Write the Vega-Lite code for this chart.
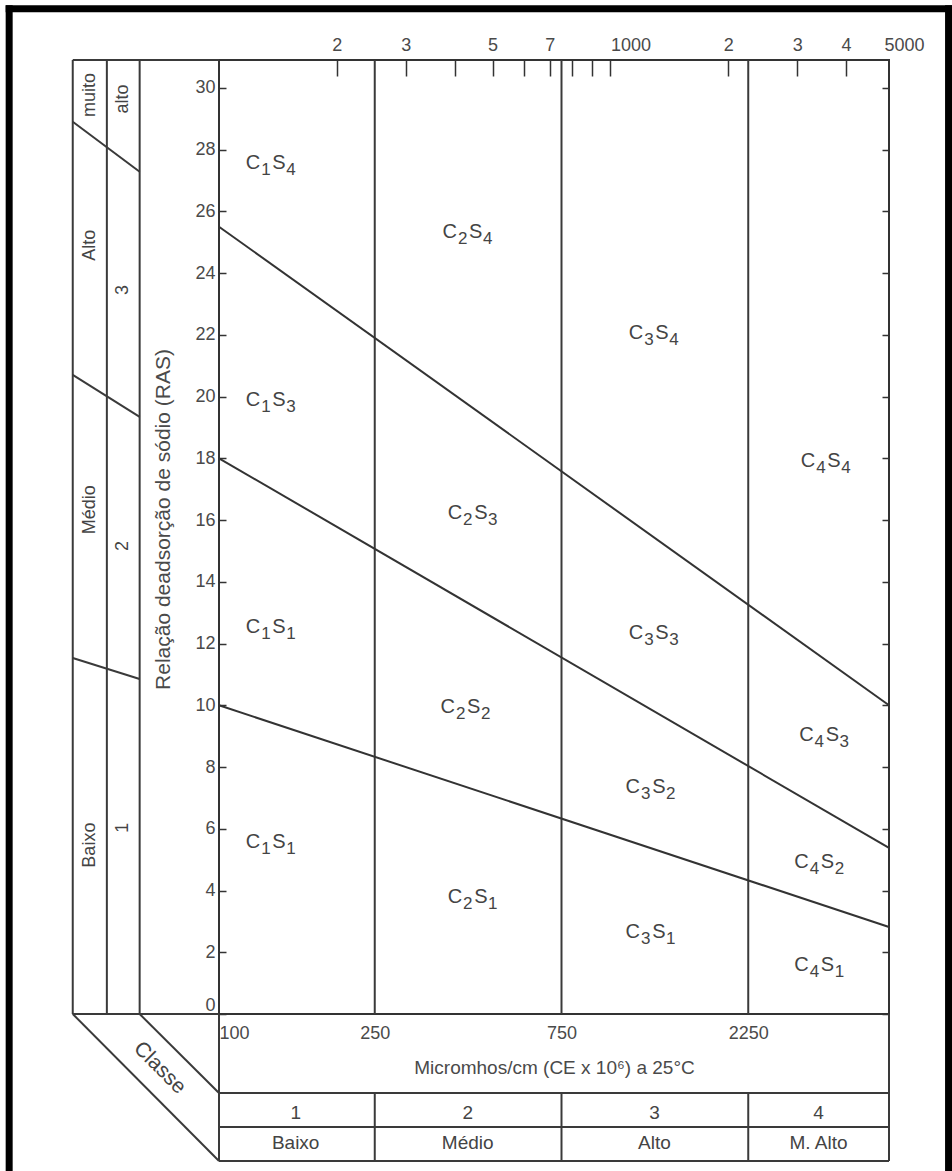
{
  "$schema": "https://vega.github.io/schema/vega-lite/v6.json",
  "width": 670,
  "height": 954,
  "autosize": {"type": "none"},
  "padding": {"left": 219, "top": 60, "right": 63, "bottom": 157},
  "background": "white",
  "config": {
    "view": {"stroke": "#333333", "strokeWidth": 2},
    "font": "Liberation Sans",
    "axis": {
      "labelFont": "Liberation Sans",
      "labelColor": "#4a4a4a",
      "labelFontSize": 18,
      "titleFont": "Liberation Sans",
      "titleFontWeight": "normal",
      "titleColor": "#4a4a4a",
      "tickColor": "#333333",
      "tickWidth": 1.5,
      "domain": false,
      "grid": false,
      "labelOverlap": false,
      "labelBound": false
    }
  },
  "datasets": {
    "frame": [
      {"x": 29.1, "y": 32.56, "x2": 7311, "y2": 32.56},
      {"x": 29.1, "y": 32.56, "x2": 29.1, "y2": -6.5},
      {"x": 7311, "y": 32.56, "x2": 7311, "y2": -6.5}
    ],
    "grid": [
      {"x": 250, "y": 0, "x2": 250, "y2": 30.9},
      {"x": 750, "y": 0, "x2": 750, "y2": 30.9},
      {"x": 2250, "y": 0, "x2": 2250, "y2": 30.9},
      {"x": 250, "y": -2.559, "x2": 250, "y2": -4.762},
      {"x": 750, "y": -2.559, "x2": 750, "y2": -4.762},
      {"x": 2250, "y": -2.559, "x2": 2250, "y2": -4.762},
      {"x": 100, "y": 0, "x2": 100, "y2": -4.762},
      {"x": 5150, "y": 0, "x2": 5150, "y2": -4.762},
      {"x": 100, "y": -2.559, "x2": 5150, "y2": -2.559},
      {"x": 100, "y": -3.661, "x2": 5150, "y2": -3.661},
      {"x": 100, "y": -4.762, "x2": 5150, "y2": -4.762},
      {"x": 42.3, "y": 0, "x2": 42.3, "y2": 30.9},
      {"x": 51.7, "y": 0, "x2": 51.7, "y2": 30.9},
      {"x": 62.7, "y": 0, "x2": 62.7, "y2": 30.9},
      {"x": 42.3, "y": 30.9, "x2": 100, "y2": 30.9},
      {"x": 42.3, "y": 0, "x2": 100, "y2": 0},
      {"x": 42.3, "y": 28.9, "x2": 62.7, "y2": 27.28},
      {"x": 42.3, "y": 20.7, "x2": 62.7, "y2": 19.34},
      {"x": 42.3, "y": 11.53, "x2": 62.7, "y2": 10.85},
      {"x": 62.7, "y": 0, "x2": 100, "y2": -2.559},
      {"x": 42.3, "y": 0, "x2": 100, "y2": -4.762}
    ],
    "hazard": [
      {"x": 100, "y": 10, "x2": 5150, "y2": 2.82},
      {"x": 100, "y": 18, "x2": 5150, "y2": 5.38},
      {"x": 100, "y": 25.5, "x2": 5150, "y2": 10.0}
    ],
    "regions": [
      {"ec": 135, "sar": 27.57, "c": "1", "s": "4"},
      {"ec": 429.5, "sar": 25.33, "c": "2", "s": "4"},
      {"ec": 1285, "sar": 22.07, "c": "3", "s": "4"},
      {"ec": 3533, "sar": 17.92, "c": "4", "s": "4"},
      {"ec": 135, "sar": 19.89, "c": "1", "s": "3"},
      {"ec": 442.6, "sar": 16.23, "c": "2", "s": "3"},
      {"ec": 1285, "sar": 12.34, "c": "3", "s": "3"},
      {"ec": 3500, "sar": 9.05, "c": "4", "s": "3"},
      {"ec": 135, "sar": 12.54, "c": "1", "s": "1"},
      {"ec": 424.5, "sar": 9.95, "c": "2", "s": "2"},
      {"ec": 1261, "sar": 7.35, "c": "3", "s": "2"},
      {"ec": 3400, "sar": 4.92, "c": "4", "s": "2"},
      {"ec": 135, "sar": 5.57, "c": "1", "s": "1"},
      {"ec": 442.6, "sar": 3.79, "c": "2", "s": "1"},
      {"ec": 1261, "sar": 2.66, "c": "3", "s": "1"},
      {"ec": 3400, "sar": 1.6, "c": "4", "s": "1"}
    ],
    "sideLabels": [
      {"ec": 46.7, "sar": 29.77, "label": "muito"},
      {"ec": 56.9, "sar": 29.64, "label": "alto"},
      {"ec": 46.7, "sar": 24.9, "label": "Alto"},
      {"ec": 56.9, "sar": 23.45, "label": "3"},
      {"ec": 46.7, "sar": 16.33, "label": "Médio"},
      {"ec": 56.9, "sar": 15.16, "label": "2"},
      {"ec": 46.7, "sar": 5.47, "label": "Baixo"},
      {"ec": 56.9, "sar": 6.03, "label": "1"}
    ],
    "classes": [
      {"ec": 157, "sar": -3.207, "label": "1"},
      {"ec": 432, "sar": -3.207, "label": "2"},
      {"ec": 1296, "sar": -3.207, "label": "3"},
      {"ec": 3402, "sar": -3.207, "label": "4"},
      {"ec": 157, "sar": -4.179, "label": "Baixo"},
      {"ec": 432, "sar": -4.179, "label": "Médio"},
      {"ec": 1296, "sar": -4.179, "label": "Alto"},
      {"ec": 3402, "sar": -4.179, "label": "M. Alto"}
    ],
    "corner": [
      {"ec": 70.5, "sar": -1.749, "label": "Classe"}
    ]
  },
  "layer": [
    {
      "data": {"name": "frame"},
      "mark": {"type": "rule", "stroke": "black", "strokeWidth": 7, "strokeCap": "square"},
      "encoding": {
        "x": {"field": "x", "type": "quantitative", "scale": {"type": "log", "domain": [100, 5150], "nice": false}, "axis": null},
        "y": {"field": "y", "type": "quantitative", "scale": {"domain": [0, 30.9], "nice": false, "zero": false}, "axis": null},
        "x2": {"field": "x2"},
        "y2": {"field": "y2"}
      }
    },
    {
      "data": {"name": "grid"},
      "mark": {"type": "rule", "stroke": "#3a3a3a", "strokeWidth": 2},
      "encoding": {
        "x": {
          "field": "x", "type": "quantitative",
          "scale": {"type": "log", "domain": [100, 5150], "nice": false},
          "axis": {
            "orient": "bottom",
            "values": [100, 250, 750, 2250],
            "format": "d",
            "ticks": false,
            "labelPadding": 10,
            "labelFlush": true,
            "title": "Micromhos/cm (CE x 10⁶) a  25°C",
            "titleFontSize": 19,
            "titleY": 53,
            "titleBaseline": "middle"
          }
        },
        "y": {
          "field": "y", "type": "quantitative",
          "scale": {"domain": [0, 30.9], "nice": false, "zero": false},
          "axis": {
            "orient": "left",
            "values": [0, 2, 4, 6, 8, 10, 12, 14, 16, 18, 20, 22, 24, 26, 28, 30],
            "tickSize": -7,
            "labelPadding": 11,
            "labelFlush": true,
            "title": "Relação deadsorção de sódio  (RAS)",
            "titleFontSize": 21,
            "titleX": -56,
            "titleY": 459,
            "titleAlign": "center",
            "titleBaseline": "middle"
          }
        },
        "x2": {"field": "x2"},
        "y2": {"field": "y2"}
      }
    },
    {
      "data": {"name": "hazard"},
      "mark": {"type": "rule", "stroke": "#333333", "strokeWidth": 2},
      "encoding": {
        "x": {
          "field": "x", "type": "quantitative",
          "scale": {"type": "log", "domain": [100, 5150], "nice": false},
          "axis": {
            "orient": "top",
            "values": [200, 300, 400, 500, 600, 700, 800, 900, 1000, 2000, 3000, 4000, 5000],
            "tickSize": -16,
            "labelPadding": 22,
            "labelExpr": "datum.value == 200 || datum.value == 2000 ? '2' : datum.value == 300 || datum.value == 3000 ? '3' : datum.value == 500 ? '5' : datum.value == 700 ? '7' : datum.value == 4000 ? '4' : datum.value == 1000 ? '1000' : datum.value == 5000 ? '5000' : ''",
            "labelAlign": {"condition": {"test": "datum.value == 1000 || datum.value == 5000", "value": "left"}, "value": "center"},
            "tickOpacity": {"condition": {"test": "datum.value == 5000", "value": 0}, "value": 1},
            "title": null
          }
        },
        "y": {
          "field": "y", "type": "quantitative",
          "scale": {"domain": [0, 30.9], "nice": false, "zero": false},
          "axis": {
            "orient": "right",
            "values": [0, 2, 4, 6, 8, 10, 12, 14, 16, 18, 20, 22, 24, 26, 28, 30],
            "tickSize": -7,
            "labels": false,
            "title": null
          }
        },
        "x2": {"field": "x2"},
        "y2": {"field": "y2"}
      }
    },
    {
      "data": {"name": "regions"},
      "mark": {"type": "text", "fontSize": 20, "color": "#444444", "align": "center", "baseline": "middle", "dx": -17},
      "encoding": {
        "x": {"field": "ec", "type": "quantitative", "scale": {"type": "log", "domain": [100, 5150], "nice": false}, "axis": null},
        "y": {"field": "sar", "type": "quantitative", "scale": {"domain": [0, 30.9], "nice": false, "zero": false}, "axis": null},
        "text": {"value": "C"}
      }
    },
    {
      "data": {"name": "regions"},
      "mark": {"type": "text", "fontSize": 17, "color": "#444444", "align": "center", "baseline": "middle", "dx": -4, "dy": 7},
      "encoding": {
        "x": {"field": "ec", "type": "quantitative", "scale": {"type": "log", "domain": [100, 5150], "nice": false}, "axis": null},
        "y": {"field": "sar", "type": "quantitative", "scale": {"domain": [0, 30.9], "nice": false, "zero": false}, "axis": null},
        "text": {"field": "c"}
      }
    },
    {
      "data": {"name": "regions"},
      "mark": {"type": "text", "fontSize": 20, "color": "#444444", "align": "center", "baseline": "middle", "dx": 9},
      "encoding": {
        "x": {"field": "ec", "type": "quantitative", "scale": {"type": "log", "domain": [100, 5150], "nice": false}, "axis": null},
        "y": {"field": "sar", "type": "quantitative", "scale": {"domain": [0, 30.9], "nice": false, "zero": false}, "axis": null},
        "text": {"value": "S"}
      }
    },
    {
      "data": {"name": "regions"},
      "mark": {"type": "text", "fontSize": 17, "color": "#444444", "align": "center", "baseline": "middle", "dx": 21, "dy": 7},
      "encoding": {
        "x": {"field": "ec", "type": "quantitative", "scale": {"type": "log", "domain": [100, 5150], "nice": false}, "axis": null},
        "y": {"field": "sar", "type": "quantitative", "scale": {"domain": [0, 30.9], "nice": false, "zero": false}, "axis": null},
        "text": {"field": "s"}
      }
    },
    {
      "data": {"name": "sideLabels"},
      "mark": {"type": "text", "fontSize": 18, "color": "#444444", "align": "center", "baseline": "middle", "angle": 270},
      "encoding": {
        "x": {"field": "ec", "type": "quantitative", "scale": {"type": "log", "domain": [100, 5150], "nice": false}, "axis": null},
        "y": {"field": "sar", "type": "quantitative", "scale": {"domain": [0, 30.9], "nice": false, "zero": false}, "axis": null},
        "text": {"field": "label"}
      }
    },
    {
      "data": {"name": "classes"},
      "mark": {"type": "text", "fontSize": 19, "color": "#444444", "align": "center", "baseline": "middle"},
      "encoding": {
        "x": {"field": "ec", "type": "quantitative", "scale": {"type": "log", "domain": [100, 5150], "nice": false}, "axis": null},
        "y": {"field": "sar", "type": "quantitative", "scale": {"domain": [0, 30.9], "nice": false, "zero": false}, "axis": null},
        "text": {"field": "label"}
      }
    },
    {
      "data": {"name": "corner"},
      "mark": {"type": "text", "fontSize": 21, "color": "#444444", "align": "center", "baseline": "middle", "angle": 45},
      "encoding": {
        "x": {"field": "ec", "type": "quantitative", "scale": {"type": "log", "domain": [100, 5150], "nice": false}, "axis": null},
        "y": {"field": "sar", "type": "quantitative", "scale": {"domain": [0, 30.9], "nice": false, "zero": false}, "axis": null},
        "text": {"field": "label"}
      }
    }
  ],
  "resolve": {"axis": {"x": "independent", "y": "independent"}}
}
